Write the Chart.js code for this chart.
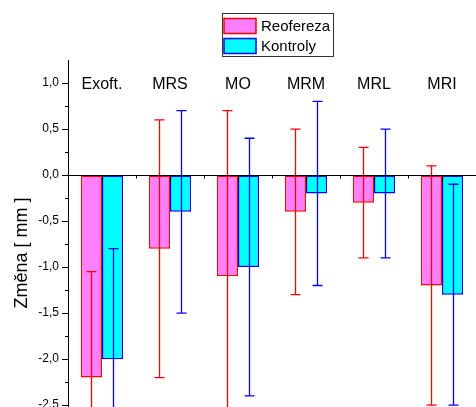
<!DOCTYPE html>
<html>
<head>
<meta charset="utf-8">
<script src="https://cdn.jsdelivr.net/npm/chart.js@4/dist/chart.umd.min.js"></script>
<style>
  html, body { margin: 0; padding: 0; background: #fff; overflow: hidden; }
  #graf { display: block; }
</style>
</head>
<body>
<canvas id="graf" width="476" height="407"></canvas>
<script>
const kategorie = ['Exoft.', 'MRS', 'MO', 'MRM', 'MRL', 'MRI'];
const reoferezaPrumer = [-2.2, -0.8, -1.1, -0.4, -0.3, -1.2];
const reoferezaChyba = [1.15, 1.4, 1.8, 0.9, 0.6, 1.3];
const kontrolyPrumer = [-2.0, -0.4, -1.0, -0.2, -0.2, -1.3];
const kontrolyChyba = [1.2, 1.1, 1.4, 1.0, 0.7, 1.2];
const yHlavni = [-2.5, -2.0, -1.5, -1.0, -0.5, 0.0, 0.5, 1.0];
const yVedlejsi = [-2.25, -1.75, -1.25, -0.75, -0.25, 0.25, 0.75];

const pismo = 'Liberation Sans, Arial, sans-serif';
Chart.defaults.font.family = pismo;
Chart.defaults.color = '#000';

const prumery = [reoferezaPrumer, kontrolyPrumer];
const chyby = [reoferezaChyba, kontrolyChyba];
const barvyCar = ['#ff0000', '#0000ff'];

const dokresleni = {
  id: 'dokresleni',
  afterDatasetsDraw(chart) {
    const ctx = chart.ctx;
    const a = chart.chartArea;
    const x = chart.scales.x;
    const y = chart.scales.y;

    // chybove useky
    ctx.save();
    ctx.beginPath();
    ctx.rect(a.left, a.top, a.right - a.left, a.bottom - a.top);
    ctx.clip();
    ctx.lineWidth = 1.3;
    [0, 1].forEach(d => {
      ctx.strokeStyle = barvyCar[d];
      chart.getDatasetMeta(d).data.forEach((bar, i) => {
        const m = prumery[d][i], e = chyby[d][i];
        const px = Math.round(bar.x) + 0.5;
        const yt = y.getPixelForValue(m + e);
        const yb = y.getPixelForValue(m - e);
        ctx.beginPath();
        ctx.moveTo(px, yt); ctx.lineTo(px, yb);
        ctx.moveTo(px - 5, yt); ctx.lineTo(px + 5, yt);
        ctx.moveTo(px - 5, yb); ctx.lineTo(px + 5, yb);
        ctx.stroke();
      });
    });
    ctx.restore();

    // nulova osa
    ctx.save();
    ctx.strokeStyle = '#000';
    ctx.lineWidth = 1;
    const y0 = Math.round(y.getPixelForValue(0)) + 0.5;
    ctx.beginPath();
    ctx.moveTo(a.left, y0); ctx.lineTo(a.right, y0);
    kategorie.forEach((k, i) => {
      const c = Math.round(x.getPixelForValue(i)) + 0.5;
      ctx.moveTo(c, y0); ctx.lineTo(c, y0 + 6);
      const w = x.getPixelForValue(1) - x.getPixelForValue(0);
      const b = Math.round(x.getPixelForValue(i) + w / 2) + 0.5;
      ctx.moveTo(b, y0); ctx.lineTo(b, y0 + 3);
    });
    // vedlejsi znacky na ose y
    yVedlejsi.forEach(v => {
      const py = Math.round(y.getPixelForValue(v)) + 0.5;
      ctx.moveTo(a.left - 3, py); ctx.lineTo(a.left, py);
    });
    ctx.stroke();

    // popisky kategorii
    ctx.fillStyle = '#000';
    ctx.font = '16px ' + pismo;
    ctx.textAlign = 'center';
    ctx.textBaseline = 'alphabetic';
    kategorie.forEach((k, i) => {
      ctx.fillText(k, x.getPixelForValue(i), y.getPixelForValue(1.0) + 6);
    });

    // nazev osy y
    ctx.save();
    ctx.translate(22, 253);
    ctx.rotate(-Math.PI / 2);
    ctx.font = '18px ' + pismo;
    ctx.textBaseline = 'middle';
    ctx.fillText('Změna [ mm ]', 0, 0);
    ctx.restore();

    // legenda
    ctx.strokeStyle = '#333';
    ctx.lineWidth = 1;
    ctx.strokeRect(222.5, 13.5, 111, 43);
    const polozky = [
      ['Reofereza', '#ff80ff', '#ff0000', 18.5],
      ['Kontroly', '#00ffff', '#0000ff', 38.5]
    ];
    ctx.font = '15px ' + pismo;
    ctx.textAlign = 'left';
    ctx.textBaseline = 'middle';
    polozky.forEach(([t, f, s, py]) => {
      ctx.fillStyle = f;
      ctx.fillRect(224, py, 32, 15);
      ctx.strokeStyle = s;
      ctx.lineWidth = 1.5;
      ctx.strokeRect(224, py, 32, 15);
      ctx.fillStyle = '#000';
      ctx.fillText(t, 261, py + 8);
    });
    ctx.restore();
  }
};

new Chart(document.getElementById('graf'), {
  type: 'bar',
  data: {
    labels: kategorie,
    datasets: [
      {
        label: 'Reofereza',
        data: reoferezaPrumer,
        backgroundColor: '#ff80ff',
        borderColor: '#ff0000',
        borderWidth: 1.5,
        borderSkipped: false
      },
      {
        label: 'Kontroly',
        data: kontrolyPrumer,
        backgroundColor: '#00ffff',
        borderColor: '#0000ff',
        borderWidth: 1.5,
        borderSkipped: false
      }
    ]
  },
  options: {
    responsive: false,
    animation: false,
    layout: { padding: { top: 60, left: 0, right: -2, bottom: 0 } },
    categoryPercentage: 0.62,
    barPercentage: 1.0,
    plugins: {
      legend: { display: false },
      tooltip: { enabled: false }
    },
    scales: {
      x: { display: false, offset: true },
      y: {
        min: -2.52,
        max: 1.25,
        afterBuildTicks: s => { s.ticks = yHlavni.map(v => ({ value: v })); },
        afterFit: s => { s.width = 68; s.paddingTop = 0; s.paddingBottom = 0; },
        ticks: {
          autoSkip: false,
          padding: 3,
          font: { size: 12 },
          color: '#000',
          callback: v => v.toFixed(1).replace('.', ',')
        },
        grid: { drawOnChartArea: false, tickLength: 6, tickColor: '#000' },
        border: { color: '#000', width: 1 }
      }
    }
  },
  plugins: [dokresleni]
});
</script>
</body>
</html>
